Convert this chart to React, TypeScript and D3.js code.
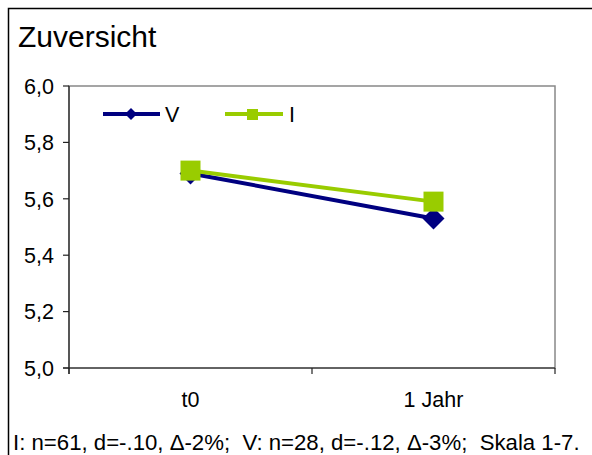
import * as d3 from "d3";

const categories = ["t0", "1 Jahr"];
const seriesV = [5.69, 5.53];
const seriesI = [5.7, 5.59];
const yTicks = [5.0, 5.2, 5.4, 5.6, 5.8, 6.0];
const title = "Zuversicht";
const footer = "I: n=61, d=-.10, \u0394-2%;  V: n=28, d=-.12, \u0394-3%;  Skala 1-7.";

const W = 592;
const H = 455;
const plot = { left: 69, right: 555, top: 86, bottom: 368 };
const font = "Arial, 'Liberation Sans', sans-serif";
const navy = "#000080";
const lime = "#99CC00";

export default function App() {
  const x = d3
    .scalePoint<string>()
    .domain(categories)
    .range([plot.left, plot.right])
    .padding(0.5);
  const band = d3
    .scaleBand<string>()
    .domain(categories)
    .range([plot.left, plot.right]);
  const y = d3.scaleLinear().domain([5, 6]).range([plot.bottom, plot.top]);

  const line = d3
    .line<number>()
    .x((_, i) => x(categories[i]) as number)
    .y(d => y(d));

  const boundaries = [...categories.map(c => band(c) as number), plot.right];
  const fmt = (v: number) => v.toFixed(1).replace(".", ",");

  const diamond = (cx: number, cy: number, r: number) =>
    `M${cx},${cy - r}L${cx + r},${cy}L${cx},${cy + r}L${cx - r},${cy}Z`;

  return (
    <svg
      width={W}
      height={H}
      style={{ position: "absolute", left: 0, top: 0, background: "#fff" }}
      fontFamily={font}
    >
      {/* outer frame */}
      <rect x={8.5} y={8.5} width={620} height={480} fill="#fff" stroke="#000" strokeWidth={1.5} />
      <text x={18} y={47} fontSize={30}>{title}</text>

      {/* plot frame */}
      <rect
        x={plot.left}
        y={plot.top}
        width={plot.right - plot.left}
        height={plot.bottom - plot.top}
        fill="none"
        stroke="#888"
        strokeWidth={1.5}
      />
      <line x1={plot.left} x2={plot.left} y1={plot.top} y2={plot.bottom + 6} stroke="#222" strokeWidth={1.2} />
      <line x1={plot.left - 6} x2={plot.right} y1={plot.bottom} y2={plot.bottom} stroke="#222" strokeWidth={1.2} />

      {/* y ticks */}
      {yTicks.map(t => (
        <g key={t}>
          <line x1={plot.left - 6} x2={plot.left} y1={y(t)} y2={y(t)} stroke="#222" strokeWidth={1.2} />
          <text x={54} y={y(t)} dy="0.36em" textAnchor="end" fontSize={21.5}>
            {fmt(t)}
          </text>
        </g>
      ))}

      {/* x ticks */}
      {boundaries.map((b, i) => (
        <line key={i} x1={b} x2={b} y1={plot.bottom} y2={plot.bottom + 6} stroke="#222" strokeWidth={1.2} />
      ))}
      {categories.map(c => (
        <text key={c} x={x(c)} y={407} textAnchor="middle" fontSize={21.5}>
          {c}
        </text>
      ))}

      {/* series V */}
      <path d={line(seriesV) || undefined} fill="none" stroke={navy} strokeWidth={4} />
      {seriesV.map((v, i) => (
        <path key={i} d={diamond(x(categories[i]) as number, y(v), 11)} fill={navy} />
      ))}

      {/* series I */}
      <path d={line(seriesI) || undefined} fill="none" stroke={lime} strokeWidth={4} />
      {seriesI.map((v, i) => (
        <rect
          key={i}
          x={(x(categories[i]) as number) - 10}
          y={y(v) - 10}
          width={20}
          height={20}
          fill={lime}
        />
      ))}

      {/* legend */}
      <line x1={103} x2={160} y1={114} y2={114} stroke={navy} strokeWidth={4} />
      <path d={diamond(131, 114, 6)} fill={navy} />
      <text x={165} y={114} dy="0.36em" fontSize={21.5}>V</text>
      <line x1={225} x2={283} y1={114} y2={114} stroke={lime} strokeWidth={4} />
      <rect x={247} y={109} width={11} height={11} fill={lime} />
      <text x={289} y={114} dy="0.36em" fontSize={21.5}>I</text>

      <text x={13} y={450} fontSize={22.2} style={{ whiteSpace: "pre" }}>{footer}</text>
    </svg>
  );
}
